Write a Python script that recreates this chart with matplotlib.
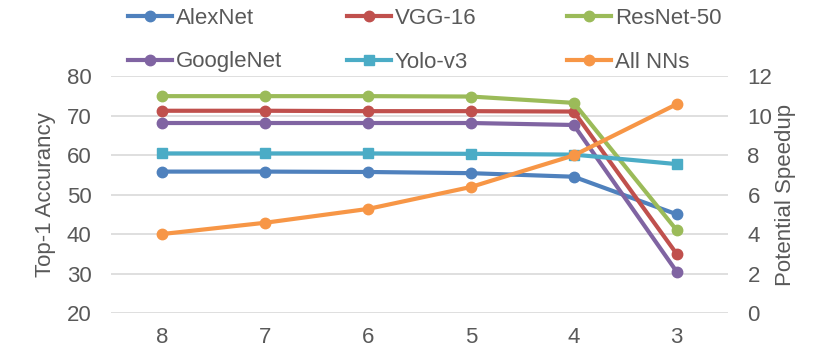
import matplotlib
matplotlib.use("Agg")
import matplotlib.pyplot as plt

plt.rcParams['font.family'] = ['Liberation Sans', 'DejaVu Sans']

bits = ["8", "7", "6", "5", "4", "3"]
alexnet = [55.8, 55.8, 55.7, 55.4, 54.5, 45.0]
vgg16 = [71.2, 71.2, 71.1, 71.1, 71.0, 35.0]
resnet50 = [74.9, 74.9, 74.9, 74.8, 73.2, 41.0]
googlenet = [68.1, 68.1, 68.1, 68.1, 67.6, 30.5]
yolov3 = [60.4, 60.4, 60.4, 60.3, 60.1, 57.7]
all_nns = [4.0, 4.57, 5.27, 6.38, 7.98, 10.57]

txt = '#595959'
grid = '#D9D9D9'
fs = 16

W, H = 822, 361
fig = plt.figure(figsize=(W / 100, H / 100), dpi=100)
ax = fig.add_axes([111 / W, 1 - 313 / H, (728 - 111) / W, (313 - 76) / H])
ax2 = ax.twinx()

x = range(len(bits))
lw = 3.0
ms = 7.5
h_alex, = ax.plot(x, alexnet, color='#4F81BD', lw=lw, marker='o', ms=ms, label='AlexNet')
h_vgg, = ax.plot(x, vgg16, color='#C0504D', lw=lw, marker='o', ms=ms, label='VGG-16')
h_res, = ax.plot(x, resnet50, color='#9BBB59', lw=lw, marker='o', ms=ms, label='ResNet-50')
h_goog, = ax.plot(x, googlenet, color='#8064A2', lw=lw, marker='o', ms=ms, label='GoogleNet')
h_yolo, = ax.plot(x, yolov3, color='#4BACC6', lw=lw, marker='s', ms=ms, label='Yolo-v3')
h_all, = ax2.plot(x, all_nns, color='#F79646', lw=lw, marker='o', ms=ms, label='All NNs')

ax.set_xlim(-0.5, len(bits) - 0.5)
ax.set_ylim(20, 80)
ax.set_yticks(range(20, 81, 10))
ax2.set_ylim(0, 12)
ax2.set_yticks(range(0, 13, 2))
ax.set_xticks(list(x))
ax.set_xticklabels(bits)

ax.grid(axis='y', color=grid, lw=1.2)
ax.set_axisbelow(True)
for a in (ax, ax2):
    for s in a.spines.values():
        s.set_visible(False)
    a.tick_params(length=0, labelsize=fs, colors=txt)
ax.tick_params(axis='x', pad=10)
ax.tick_params(axis='y', pad=14)
ax2.tick_params(axis='y', pad=14)

ax.set_ylabel('Top-1 Accurancy', fontsize=fs, color=txt, labelpad=8)
ax2.set_ylabel('Potential Speedup', fontsize=fs, color=txt, labelpad=2)

# legend: 3 columns x 2 rows, each entry placed on its own
col_x = [128, 347, 567]
row_y = [18, 62]
order = [[h_alex, h_vgg, h_res], [h_goog, h_yolo, h_all]]
for r, row in enumerate(order):
    for c, h in enumerate(row):
        fig.legend(handles=[h], labels=[h.get_label()], loc='center left',
                   bbox_to_anchor=(col_x[c] / W, 1 - row_y[r] / H),
                   frameon=False, fontsize=fs, labelcolor=txt,
                   handlelength=2.0, handletextpad=0.15,
                   borderpad=0, borderaxespad=0)

fig.savefig('out.png', dpi=100)
